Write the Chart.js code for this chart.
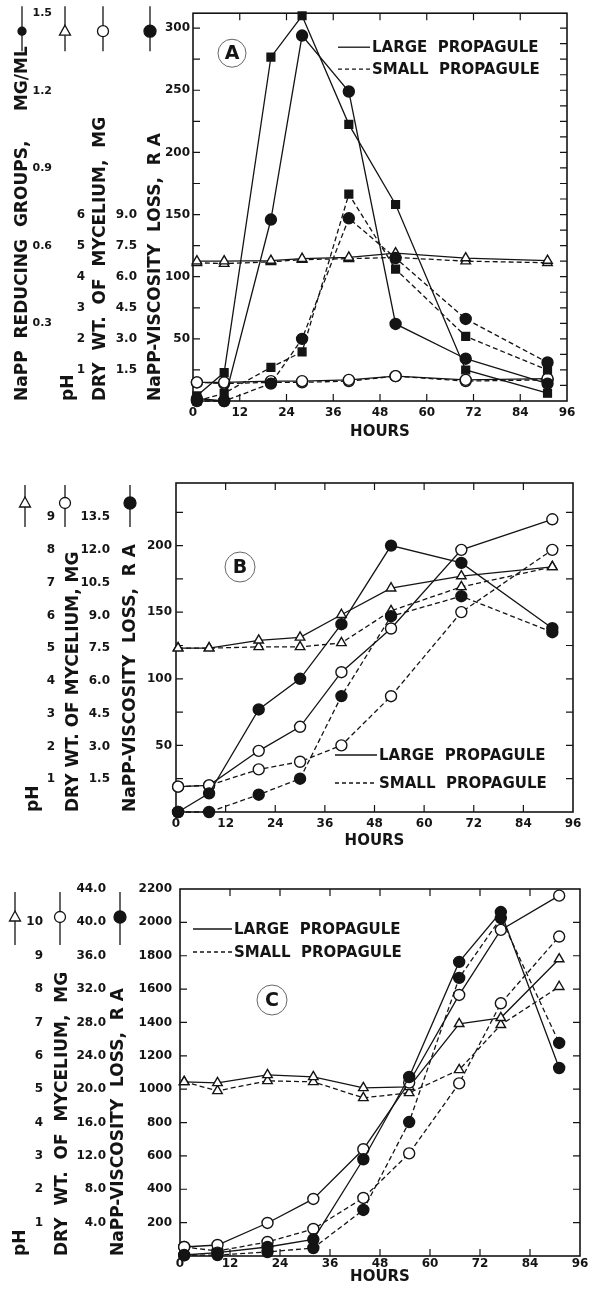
<!DOCTYPE html>
<html>
<head>
<meta charset="utf-8">
<script src="https://cdn.jsdelivr.net/npm/chart.js"></script>
<style>
  html, body { margin: 0; padding: 0; background: #fff; }
  #page { position: relative; width: 590px; height: 1290px; overflow: hidden; }
  .panel { position: absolute; left: 0; width: 590px; }
</style>
</head>
<body>
<div id="page">
  <div class="panel" style="top:0;height:445px"><canvas id="chartA" width="590" height="445"></canvas></div>
  <div class="panel" style="top:450px;height:400px"><canvas id="chartB" width="590" height="400"></canvas></div>
  <div class="panel" style="top:860px;height:430px"><canvas id="chartC" width="590" height="430"></canvas></div>
</div>
<script>
// ---- shared ----
const hourTicks = [0, 12, 24, 36, 48, 60, 72, 84, 96];

// ---- panel A ----
const hoursA = [1, 8, 20, 28, 40, 52, 70, 91];
const viscLargeA = [2, 0, 146, 294, 249, 62, 34, 14];
const viscSmallA = [0, 0, 14, 50, 147, 115, 66, 31];
const sugarLargeA = [0.02, 0.11, 1.33, 1.49, 1.07, 0.76, 0.12, 0.03];
const sugarSmallA = [0.0, 0.03, 0.13, 0.19, 0.80, 0.51, 0.25, 0.12];
const phLargeA = [4.5, 4.5, 4.52, 4.58, 4.62, 4.76, 4.6, 4.52];
const phSmallA = [4.45, 4.42, 4.48, 4.55, 4.58, 4.62, 4.5, 4.45];
const dryWtLargeA = [0.9, 0.9, 0.96, 0.96, 1.02, 1.2, 1.02, 1.08];
const dryWtSmallA = [0.9, 0.84, 0.9, 0.9, 0.96, 1.2, 0.96, 1.02];
const viscTicksA = [50, 100, 150, 200, 250, 300];
const dryWtTicksA = [1.5, 3.0, 4.5, 6.0, 7.5, 9.0];
const phTicksA = [1, 2, 3, 4, 5, 6];
const sugarTicksA = [0.3, 0.6, 0.9, 1.2, 1.5];

// ---- panel B ----
const hoursB = [0.5, 8, 20, 30, 40, 52, 69, 91];
const viscLargeB = [0, 14, 77, 100, 141, 200, 187, 138];
const viscSmallB = [0, 0, 13, 25, 87, 147, 162, 135];
const phLargeB = [5.0, 5.0, 5.24, 5.33, 6.02, 6.83, 7.2, 7.48];
const phSmallB = [5.0, 5.0, 5.04, 5.04, 5.16, 6.14, 6.87, 7.48];
const dryWtLargeB = [1.16, 1.22, 2.8, 3.9, 6.4, 8.4, 12.0, 13.4];
const dryWtSmallB = [1.16, 1.22, 1.95, 2.3, 3.05, 5.3, 9.15, 12.0];
const viscTicksB = [50, 100, 150, 200];
const dryWtTicksB = [1.5, 3.0, 4.5, 6.0, 7.5, 9.0, 10.5, 12.0, 13.5];
const phTicksB = [1, 2, 3, 4, 5, 6, 7, 8, 9];

// ---- panel C ----
const hoursC = [1, 9, 21, 32, 44, 55, 67, 77, 91];
const viscLargeC = [6, 20, 54, 100, 580, 1073, 1763, 2062, 1127];
const viscSmallC = [4, 6, 24, 48, 276, 803, 1667, 2026, 1277];
const phLargeC = [5.22, 5.19, 5.43, 5.37, 5.04, 5.07, 6.96, 7.14, 8.9];
const phSmallC = [5.22, 4.95, 5.25, 5.22, 4.74, 4.89, 5.58, 6.93, 8.07];
const dryWtLargeC = [1.08, 1.32, 3.96, 6.84, 12.8, 20.8, 31.3, 39.1, 43.2];
const dryWtSmallC = [1.08, 0.6, 1.68, 3.24, 6.96, 12.3, 20.7, 30.3, 38.3];
const viscTicksC = [200, 400, 600, 800, 1000, 1200, 1400, 1600, 1800, 2000, 2200];
const dryWtTicksC = [4, 8, 12, 16, 20, 24, 28, 32, 36, 40, 44];
const phTicksC = [1, 2, 3, 4, 5, 6, 7, 8, 9, 10];

const FONT = "'DejaVu Sans', sans-serif";
const INK = '#141414';

const markers = {
  visc:  { pointStyle: 'circle',   radius: 5.5, fill: INK },
  sugar: { pointStyle: 'rect',     radius: 5.5, fill: INK },
  ph:    { pointStyle: 'triangle', radius: 5.5, fill: '#fff' },
  dw:    { pointStyle: 'circle',   radius: 5.5, fill: '#fff' }
};

function series(hours, vals, axis, kind, small) {
  const m = markers[kind];
  return {
    data: hours.map((h, i) => ({ x: h, y: vals[i] })),
    yAxisID: axis,
    borderColor: INK,
    borderWidth: 1.3,
    borderDash: small ? [5, 3] : [],
    pointStyle: m.pointStyle,
    pointRadius: m.radius,
    pointBackgroundColor: m.fill,
    pointBorderColor: INK,
    pointBorderWidth: 1.4,
    tension: 0,
    clip: 10
  };
}

function yAxis(o) {
  return {
    type: 'linear', position: 'left', min: 0, max: o.max, weight: o.weight,
    grid: { display: false, drawTicks: false },
    border: { display: false },
    ticks: {
      padding: o.tickPad, color: INK,
      font: { family: FONT, size: o.tickSize || 12, weight: 'bold' },
      callback: v => o.digits ? v.toFixed(o.digits) : String(v)
    },
    title: {
      display: true, text: o.title, align: 'start', color: INK,
      padding: { top: o.titlePad, bottom: 0 },
      font: { family: FONT, size: 17, weight: 'bold' }
    },
    afterBuildTicks: s => { s.ticks = o.ticks.map(v => ({ value: v })); },
    afterFit: s => { s.width = o.width; }
  };
}

function xAxis(height, tickPad, titlePad) {
  return {
    type: 'linear', position: 'bottom', min: 0, max: 96,
    grid: { display: false, drawTicks: false },
    border: { display: false },
    ticks: { padding: tickPad, maxRotation: 0, color: INK, font: { family: FONT, size: 12, weight: 'bold' } },
    title: {
      display: true, text: 'HOURS', color: INK,
      padding: { top: 0, bottom: titlePad },
      font: { family: FONT, size: 15, weight: 'bold' }
    },
    afterBuildTicks: s => { s.ticks = hourTicks.map(v => ({ value: v })); },
    afterFit: s => { s.height = height; }
  };
}

// frame with inward tick marks on all four sides
const frameTicks = {
  id: 'frameTicks',
  beforeDatasetsDraw(chart, args, opts) {
    const { ctx, chartArea: a, scales } = chart;
    const x = scales.x, y = scales.y;
    ctx.save();
    ctx.strokeStyle = INK;
    ctx.lineWidth = 1.6;
    ctx.strokeRect(a.left, a.top, a.right - a.left, a.bottom - a.top);
    ctx.lineWidth = 1.2;
    ctx.beginPath();
    for (let v = opts.yLeft; v < y.max - 1e-6; v += opts.yLeft) {
      const p = y.getPixelForValue(v);
      ctx.moveTo(a.left, p); ctx.lineTo(a.left + 7, p);
    }
    for (let v = opts.yRight; v < y.max - 1e-6; v += opts.yRight) {
      const p = y.getPixelForValue(v);
      ctx.moveTo(a.right, p); ctx.lineTo(a.right - 7, p);
    }
    hourTicks.forEach(h => {
      if (h <= 0 || h >= 96) return;
      const p = x.getPixelForValue(h);
      ctx.moveTo(p, a.bottom); ctx.lineTo(p, a.bottom - 7);
      ctx.moveTo(p, a.top); ctx.lineTo(p, a.top + 7);
    });
    ctx.stroke();
    ctx.restore();
  }
};

function drawMarker(ctx, kind, x, y) {
  ctx.beginPath();
  if (kind === 'ph') {
    ctx.moveTo(x, y - 6); ctx.lineTo(x + 5.5, y + 4); ctx.lineTo(x - 5.5, y + 4); ctx.closePath();
    ctx.fillStyle = '#fff';
  } else if (kind === 'dw') {
    ctx.arc(x, y, 5.5, 0, Math.PI * 2); ctx.fillStyle = '#fff';
  } else if (kind === 'sugar') {
    ctx.arc(x, y, 4, 0, Math.PI * 2); ctx.fillStyle = INK;
  } else {
    ctx.arc(x, y, 6, 0, Math.PI * 2); ctx.fillStyle = INK;
  }
  ctx.fill(); ctx.stroke();
}

// panel letter, legend and the axis symbol keys
const deco = {
  id: 'deco',
  afterDraw(chart, args, o) {
    const { ctx, chartArea: a } = chart;
    ctx.save();
    ctx.strokeStyle = INK;
    ctx.fillStyle = INK;

    // circled panel letter
    ctx.lineWidth = 1;
    ctx.strokeStyle = '#666';
    ctx.beginPath();
    ctx.arc(a.left + o.letter.dx, a.top + o.letter.dy, o.letter.r, 0, Math.PI * 2);
    ctx.stroke();
    ctx.font = "bold 19px " + FONT;
    ctx.textAlign = 'center';
    ctx.textBaseline = 'middle';
    ctx.fillText(o.letter.text, a.left + o.letter.dx, a.top + o.letter.dy + 1);

    // legend
    ctx.strokeStyle = INK;
    ctx.lineWidth = 1.3;
    ctx.font = "bold 15px " + FONT;
    ctx.textAlign = 'left';
    const rows = [['LARGE  PROPAGULE', []], ['SMALL  PROPAGULE', [4, 3]]];
    rows.forEach((r, i) => {
      const yy = a.top + o.legend.y[i];
      ctx.setLineDash(r[1]);
      ctx.beginPath();
      ctx.moveTo(a.left + o.legend.x0, yy); ctx.lineTo(a.left + o.legend.x1, yy);
      ctx.stroke();
      ctx.setLineDash([]);
      ctx.fillText(r[0], a.left + o.legend.x1 + 2, yy + 1);
    });

    // symbol keys above the axis columns
    ctx.lineWidth = 1.3;
    o.keys.forEach(k => {
      const s = chart.scales[k.axis];
      const kx = s.left + k.dx;
      ctx.beginPath();
      ctx.moveTo(kx, a.top + o.keyY[0]); ctx.lineTo(kx, a.top + o.keyY[1]);
      ctx.stroke();
      drawMarker(ctx, k.kind, kx, a.top + o.keyY[2]);
    });
    ctx.restore();
  }
};

function makeChart(id, cfg) {
  return new Chart(document.getElementById(id), {
    type: 'line',
    data: { datasets: cfg.datasets },
    options: {
      responsive: false,
      animation: false,
      devicePixelRatio: 1,
      layout: { padding: cfg.padding },
      scales: cfg.scales,
      plugins: {
        legend: { display: false },
        tooltip: { enabled: false },
        frameTicks: cfg.frame,
        deco: cfg.deco
      }
    },
    plugins: [frameTicks, deco]
  });
}

makeChart('chartA', {
  padding: { left: 8, right: 23, top: 12, bottom: 0 },
  datasets: [
    series(hoursA, viscLargeA, 'y', 'visc', false),
    series(hoursA, viscSmallA, 'y', 'visc', true),
    series(hoursA, sugarLargeA, 'ySugar', 'sugar', false),
    series(hoursA, sugarSmallA, 'ySugar', 'sugar', true),
    series(hoursA, dryWtLargeA, 'yDW', 'dw', false),
    series(hoursA, dryWtSmallA, 'yDW', 'dw', true),
    series(hoursA, phLargeA, 'yPH', 'ph', false),
    series(hoursA, phSmallA, 'yPH', 'ph', true)
  ],
  scales: {
    x: xAxis(44, 5, 4),
    y: yAxis({ max: 312, weight: 1, width: 50, tickPad: 3, titlePad: 2, ticks: viscTicksA, title: 'NaPP-VISCOSITY  LOSS,  R A' }),
    yDW: yAxis({ max: 18.72, weight: 2, width: 55, tickPad: 6, titlePad: 2, digits: 1, ticks: dryWtTicksA, title: 'DRY  WT.  OF  MYCELIUM,  MG' }),
    yPH: yAxis({ max: 12.48, weight: 3, width: 32, tickPad: 3, titlePad: 2, ticks: phTicksA, title: 'pH' }),
    ySugar: yAxis({ max: 1.5, weight: 4, width: 48, tickPad: 4, titlePad: 4, tickSize: 11, digits: 1, ticks: sugarTicksA, title: 'NaPP  REDUCING  GROUPS,     MG/ML' })
  },
  frame: { yLeft: 25, yRight: 12.5 },
  deco: {
    letter: { text: 'A', dx: 39, dy: 40, r: 14 },
    legend: { x0: 145, x1: 177, y: [34, 56] },
    keyY: [-7, 38, 18],
    keys: [
      { axis: 'ySugar', kind: 'sugar', dx: 14 },
      { axis: 'yPH', kind: 'ph', dx: 9 },
      { axis: 'yDW', kind: 'dw', dx: 15 },
      { axis: 'y', kind: 'visc', dx: 7 }
    ]
  }
});

makeChart('chartB', {
  padding: { left: 20, right: 17, top: 33, bottom: 0 },
  datasets: [
    series(hoursB, viscLargeB, 'y', 'visc', false),
    series(hoursB, viscSmallB, 'y', 'visc', true),
    series(hoursB, dryWtLargeB, 'yDW', 'dw', false),
    series(hoursB, dryWtSmallB, 'yDW', 'dw', true),
    series(hoursB, phLargeB, 'yPH', 'ph', false),
    series(hoursB, phSmallB, 'yPH', 'ph', true)
  ],
  scales: {
    x: xAxis(38, 5, 0),
    y: yAxis({ max: 247, weight: 1, width: 59, tickPad: 4, titlePad: 3, ticks: viscTicksB, title: 'NaPP-VISCOSITY  LOSS,  R A' }),
    yDW: yAxis({ max: 15.06, weight: 2, width: 55, tickPad: 7, titlePad: 1, digits: 1, ticks: dryWtTicksB, title: 'DRY WT. OF MYCELIUM, MG' }),
    yPH: yAxis({ max: 10.04, weight: 3, width: 42, tickPad: 7, titlePad: 3, ticks: phTicksB, title: 'pH' })
  },
  frame: { yLeft: 25, yRight: 25 },
  deco: {
    letter: { text: 'B', dx: 64, dy: 84, r: 15 },
    legend: { x0: 159, x1: 201, y: [272, 300] },
    keyY: [2, 44, 20],
    keys: [
      { axis: 'yPH', kind: 'ph', dx: 5 },
      { axis: 'yDW', kind: 'dw', dx: 3 },
      { axis: 'y', kind: 'visc', dx: 13 }
    ]
  }
});

makeChart('chartC', {
  padding: { left: 8, right: 10, top: 29, bottom: 0 },
  datasets: [
    series(hoursC, viscLargeC, 'y', 'visc', false),
    series(hoursC, viscSmallC, 'y', 'visc', true),
    series(hoursC, dryWtLargeC, 'yDW', 'dw', false),
    series(hoursC, dryWtSmallC, 'yDW', 'dw', true),
    series(hoursC, phLargeC, 'yPH', 'ph', false),
    series(hoursC, phSmallC, 'yPH', 'ph', true)
  ],
  scales: {
    x: xAxis(34, 1, 4),
    y: yAxis({ max: 2200, weight: 1, width: 72, tickPad: 8, titlePad: 0, ticks: viscTicksC, title: 'NaPP-VISCOSITY  LOSS,  R A' }),
    yDW: yAxis({ max: 44, weight: 2, width: 59, tickPad: 2, titlePad: 3, digits: 1, ticks: dryWtTicksC, title: 'DRY  WT.  OF  MYCELIUM,  MG' }),
    yPH: yAxis({ max: 11, weight: 3, width: 41, tickPad: 6, titlePad: 2, ticks: phTicksC, title: 'pH' })
  },
  frame: { yLeft: 200, yRight: 200 },
  deco: {
    letter: { text: 'C', dx: 92, dy: 111, r: 15 },
    legend: { x0: 13, x1: 52, y: [40, 63] },
    keyY: [3, 56, 28],
    keys: [
      { axis: 'yPH', kind: 'ph', dx: 7 },
      { axis: 'yDW', kind: 'dw', dx: 11 },
      { axis: 'y', kind: 'visc', dx: 12 }
    ]
  }
});
</script>
</body>
</html>
